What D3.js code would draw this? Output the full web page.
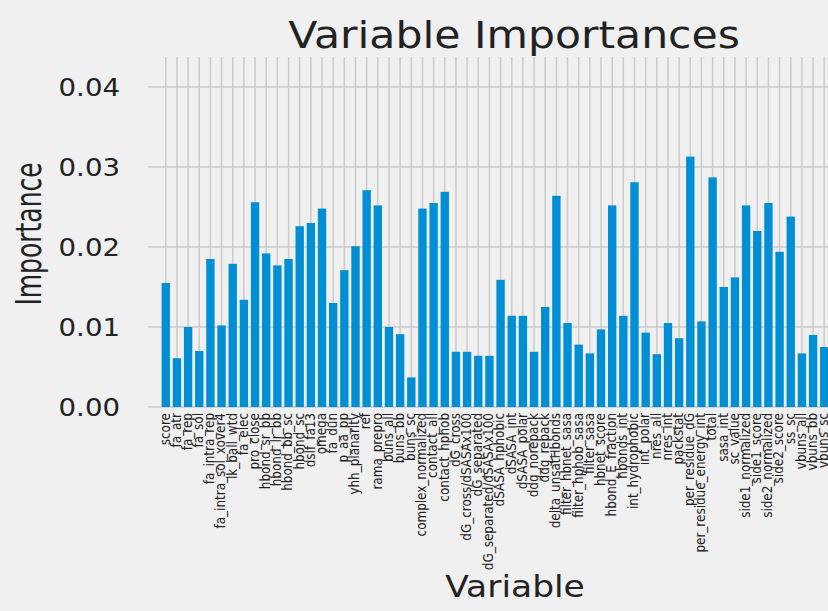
<!DOCTYPE html>
<html>
<head>
<meta charset="utf-8">
<script src="https://cdn.jsdelivr.net/npm/d3@7"></script>
<style>
  html, body { margin: 0; padding: 0; background: #f0f0f0; }
  svg { display: block; }
  text { font-family: "DejaVu Sans", sans-serif; fill: #222; }
</style>
</head>
<body>
<svg id="chart" width="828" height="611"></svg>
<script>
// Feature names, in model column order
const variables = [
  "score", "fa_atr", "fa_rep", "fa_sol", "fa_intra_rep", "fa_intra_sol_xover4",
  "lk_ball_wtd", "fa_elec", "pro_close", "hbond_sr_bb", "hbond_lr_bb", "hbond_bb_sc",
  "hbond_sc", "dslf_fa13", "omega", "fa_dun", "p_aa_pp", "yhh_planarity", "ref",
  "rama_prepro", "buns_all", "buns_bb", "buns_sc", "complex_normalized", "contact_all",
  "contact_hphob", "dG_cross", "dG_cross/dSASAx100", "dG_separated",
  "dG_separated/dSASAx100", "dSASA_hphobic", "dSASA_int", "dSASA_polar", "ddg_norepack",
  "ddg_repack", "delta_unsatHbonds", "filter_hbnet_sasa", "filter_hphob_sasa",
  "filter_sasa", "hbnet_score", "hbond_E_fraction", "hbonds_int", "int_hydrophobic",
  "int_polar", "nres_all", "nres_int", "packstat", "per_residue_dG",
  "per_residue_energy_int", "total", "sasa_int", "sc_value", "side1_normalized",
  "side1_score", "side2_normalized", "side2_score", "ss_sc", "vbuns_all", "vbuns_bb",
  "vbuns_sc"
];

// Random-forest importance of each feature
const importances = [
  0.0155, 0.0061, 0.0100, 0.0070, 0.0185, 0.0102, 0.0179, 0.0134, 0.0256, 0.0192,
  0.0177, 0.0185, 0.0226, 0.0230, 0.0248, 0.0130, 0.0171, 0.0201, 0.0271, 0.0252,
  0.0100, 0.0091, 0.0037, 0.0248, 0.0255, 0.0269, 0.0069, 0.0069, 0.0064, 0.0064,
  0.0159, 0.0114, 0.0114, 0.0069, 0.0125, 0.0264, 0.0105, 0.0078, 0.0067, 0.0097,
  0.0252, 0.0114, 0.0281, 0.0093, 0.0066, 0.0105, 0.0086, 0.0313, 0.0107, 0.0287,
  0.0150, 0.0162, 0.0252, 0.0220, 0.0255, 0.0194, 0.0238, 0.0067, 0.0090, 0.0075
];

const yTicks = [0, 0.01, 0.02, 0.03, 0.04];

const titleText = "Variable Importances";
const xTitle = "Variable";
const yTitle = "Importance";

const svg = d3.select("#chart");
const W = 828, H = 611;
const sx = 1.15; // horizontal text stretch

svg.append("rect").attr("width", W).attr("height", H).attr("fill", "#f0f0f0");

const plot = { left: 129, right: 861, top: 57, bottom: 407, gridLeft: 148 };

const x = d3.scaleBand()
  .domain(variables)
  .range([plot.left, plot.right])
  .paddingInner(0.25)
  .paddingOuter(2.92);

const y = d3.scaleLinear()
  .domain([0, 0.04375])
  .range([plot.bottom, plot.top]);

// grid
const grid = svg.append("g");
grid.selectAll("line.h")
  .data(yTicks)
  .join("line")
  .attr("x1", plot.gridLeft).attr("x2", plot.right)
  .attr("y1", d => y(d)).attr("y2", d => y(d))
  .attr("stroke", "#cbcbcb").attr("stroke-width", 1.5);
grid.selectAll("line.v")
  .data(variables)
  .join("line")
  .attr("x1", d => x(d) + x.bandwidth() / 2).attr("x2", d => x(d) + x.bandwidth() / 2)
  .attr("y1", plot.top).attr("y2", plot.bottom)
  .attr("stroke", "#cbcbcb").attr("stroke-width", 1.5);

// bars
svg.append("g").selectAll("rect")
  .data(variables)
  .join("rect")
  .attr("x", d => x(d))
  .attr("width", x.bandwidth())
  .attr("y", (d, i) => y(importances[i]))
  .attr("height", (d, i) => y(0) - y(importances[i]))
  .attr("fill", "#008fd5");

// y axis labels
const yAxis = d3.axisLeft(y).tickValues(yTicks).tickFormat(d3.format(".2f")).tickSize(0).tickPadding(0);
const yg = svg.append("g").attr("transform", `translate(${plot.left - 9},0)`).call(yAxis);
yg.select(".domain").remove();
yg.selectAll("text")
  .attr("x", 0).attr("dy", "0.36em")
  .attr("transform", d => `translate(0,${y(d)}) scale(${sx},1) translate(0,${-y(d)})`)
  .style("font-size", "24px").style("font-family", "DejaVu Sans").attr("fill", "#222");

// x axis labels, rotated
const xAxis = d3.axisBottom(x).tickSize(0).tickPadding(0);
const xg = svg.append("g").attr("transform", `translate(0,${plot.bottom})`).call(xAxis);
xg.select(".domain").remove();
xg.selectAll(".tick text")
  .attr("x", 0).attr("y", 0).attr("dy", "0.35em")
  .attr("text-anchor", "end")
  .attr("transform", `translate(-1,6) scale(${sx},1) rotate(-90)`)
  .style("font-size", "12px").style("font-family", "DejaVu Sans").attr("fill", "#222");

// titles
svg.append("text")
  .attr("transform", `translate(514,48) scale(${sx},1)`)
  .attr("text-anchor", "middle")
  .style("font-size", "37px")
  .text(titleText);

svg.append("text")
  .attr("transform", `translate(515,597) scale(${sx},1)`)
  .attr("text-anchor", "middle")
  .style("font-size", "30px")
  .text(xTitle);

svg.append("text")
  .attr("transform", `translate(41,234) scale(1.4,1) rotate(-90)`)
  .attr("text-anchor", "middle")
  .style("font-size", "25px")
  .text(yTitle);
</script>
</body>
</html>
